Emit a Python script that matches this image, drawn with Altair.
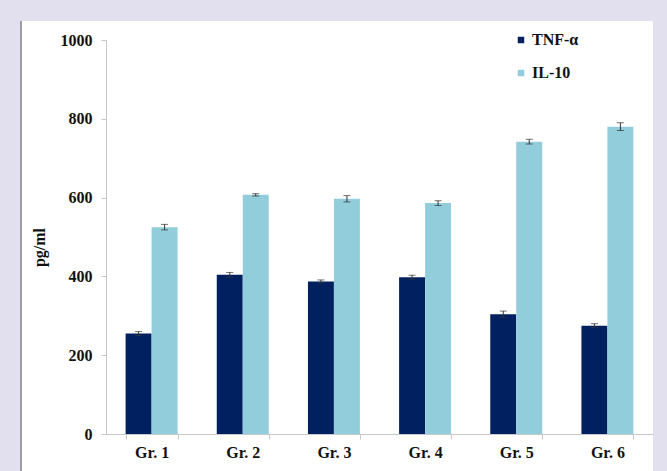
import altair as alt
import pandas as pd

# Cytokine levels per group (pg/ml), mean with error
groups = ["Gr. 1", "Gr. 2", "Gr. 3", "Gr. 4", "Gr. 5", "Gr. 6"]
series = ["TNF-α", "IL-10"]
tnf = [255, 404, 387, 398, 304, 275]
tnf_err = [5, 6, 4, 5, 8, 5]
il10 = [525, 607, 597, 586, 742, 780]
il10_err = [7, 3, 8, 6, 6, 10]
colors = ["#002060", "#92CDDC"]
y_ticks = [0, 200, 400, 600, 800, 1000]

rows = []
for g, v, e in zip(groups, tnf, tnf_err):
    rows.append({"group": g, "series": series[0], "value": v, "lo": v - e, "hi": v + e})
for g, v, e in zip(groups, il10, il10_err):
    rows.append({"group": g, "series": series[1], "value": v, "lo": v - e, "hi": v + e})
df = pd.DataFrame(rows)

FONT = "Liberation Serif"

x_enc = alt.X(
    "group:N",
    sort=groups,
    title=None,
    scale=alt.Scale(paddingInner=0.43, paddingOuter=0.215),
    axis=alt.Axis(
        labelAngle=0,
        tickBand="extent",
        tickSize=5,
        labelPadding=5,
        domainColor="#c8c8c8",
        tickColor="#c8c8c8",
        zindex=1,
    ),
)
xo_enc = alt.XOffset("series:N", sort=series)
y_enc = alt.Y(
    "value:Q",
    title="pg/ml",
    scale=alt.Scale(domain=[0, 1000], nice=False),
    axis=alt.Axis(
        values=y_ticks,
        format="d",
        grid=False,
        tickSize=5,
        labelPadding=9,
        domainColor="#c8c8c8",
        tickColor="#c8c8c8",
        titleAngle=-90,
        titleX=-67,
        titleY=207,
        titleBaseline="middle",
        titleAlign="center",
        zindex=1,
    ),
)

# page frame: white panel with a dark left edge on a lavender background
frame_df = pd.DataFrame({"k": [0]})
panel = alt.Chart(frame_df).mark_rect(color="white").encode(
    x=alt.value(-84), x2=alt.value(547), y=alt.value(-19), y2=alt.value(431)
)
edge = alt.Chart(frame_df).mark_rule(color="#6e6e6e", strokeWidth=1.2).encode(
    x=alt.value(-85), y=alt.value(-19), y2=alt.value(431)
)

bars = alt.Chart(df).mark_bar().encode(
    x=x_enc,
    xOffset=xo_enc,
    y=y_enc,
    color=alt.Color(
        "series:N",
        sort=series,
        scale=alt.Scale(domain=series, range=colors),
        legend=alt.Legend(
            title=None,
            orient="none",
            legendX=407,
            legendY=-8,
            symbolType="square",
            symbolSize=42,
            symbolStrokeWidth=0,
            labelOffset=3,
            rowPadding=17,
        ),
    ),
)

err = alt.Chart(df).mark_rule(color="#333333", strokeWidth=1).encode(
    x=alt.X("group:N", sort=groups),
    xOffset=xo_enc,
    y="lo:Q",
    y2="hi:Q",
)
cap_hi = alt.Chart(df).mark_tick(color="#333333", thickness=1, size=7).encode(
    x=alt.X("group:N", sort=groups),
    xOffset=xo_enc,
    y="hi:Q",
)
cap_lo = alt.Chart(df).mark_tick(color="#333333", thickness=1, size=7).encode(
    x=alt.X("group:N", sort=groups),
    xOffset=xo_enc,
    y="lo:Q",
)

chart = (
    alt.layer(panel, edge, bars, err, cap_hi, cap_lo)
    .properties(
        width=547,
        height=394,
        autosize="none",
        padding={"left": 106, "top": 40, "right": 14, "bottom": 37},
        background="#e2e0ee",
    )
    .configure_view(stroke=None)
    .configure_axis(
        labelFont=FONT,
        labelFontSize=16,
        labelFontWeight="bold",
        labelColor="#111111",
        titleFont=FONT,
        titleFontSize=16,
        titleFontWeight="bold",
        titleColor="#111111",
    )
    .configure_legend(
        labelFont=FONT,
        labelFontSize=16,
        labelFontWeight="bold",
        labelColor="#111111",
    )
)

chart.save("out.html", embed_options={"renderer": "svg", "actions": False})
